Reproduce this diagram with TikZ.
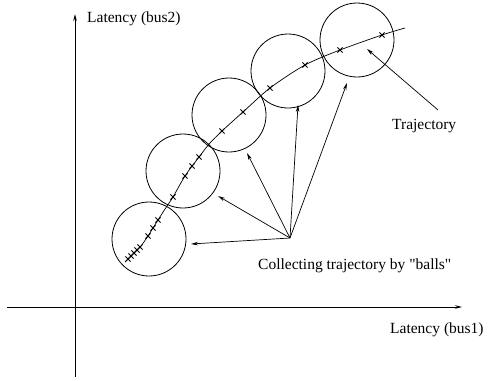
\documentclass[tikz,border=0pt]{standalone}
\usepackage{fontspec}
\setmainfont{Liberation Serif}
\newfontfamily\lblfont{Liberation Serif}
\usetikzlibrary{arrows.meta}
\begin{document}
\begin{tikzpicture}[x=1pt,y=-1pt,
  axis/.style={line width=0.9pt,-{Stealth[length=7pt,width=3.5pt]}},
  ptr/.style={line width=0.7pt,-{Stealth[length=7pt,width=3.5pt]}},
  ball/.style={draw,circle,line width=0.8pt,minimum size=74pt,inner sep=0pt},
  lbl/.style={anchor=west,inner sep=0pt,font=\lblfont\fontsize{15.5}{18}\selectfont},
  crs/.style={line width=0.75pt}]
\useasboundingbox (0,0) rectangle (492,380);
% axes
\coordinate (xs) at (7,307);
\coordinate (xe) at (462,307);
\coordinate (ys) at (75,377);
\coordinate (ye) at (75,14);
\draw[axis] (xs) -- (xe);
\draw[axis] (ys) -- (ye);
\node[lbl] (ylab) at (87,19) {Latency (bus2)};
\node[lbl] (xlab) at (390,330) {Latency (bus1)};
% balls
\node[ball] (b1) at (149,239) {};
\node[ball] (b2) at (183,171) {};
\node[ball] (b3) at (229,115) {};
\node[ball] (b4) at (288,71) {};
\node[ball] (b5) at (357,40) {};
% trajectory
\draw[line width=0.7pt] plot[smooth] coordinates {(125,262) (134,253) (141,246) (148,236) (153,228) (158,220) (165,209) (173,197) (185,176) (199,157) (210,143) (222,131) (243,112) (270,88) (305,65) (340,50) (382,35) (405,28)};
\foreach \p in {(128,259),(131,256),(134,253),(137,250),(140,247),(148,236),(153,228),(158,220),(173,197),(185,176),(192,166),(199,157),(222,131),(243,112),(270,88),(305,65),(340,50),(382,35)}
  \draw[crs] \p ++(-2.6,-2.6) -- ++(5.2,5.2) \p ++(-2.6,2.6) -- ++(5.2,-5.2);
% arrows
\coordinate (apex) at (290,238);
\coordinate (t1) at (191,244);
\coordinate (t2) at (218,196);
\coordinate (t3) at (247,153);
\coordinate (t4) at (298,105);
\coordinate (t5) at (347,83);
\foreach \t in {t1,t2,t3,t4,t5} \draw[ptr] (apex) -- (\t);
\node[lbl] (clab) at (258,266) {Collecting trajectory by "balls"};
\coordinate (trs) at (438,110);
\coordinate (tre) at (367,49);
\draw[ptr] (trs) -- (tre);
\node[lbl] (tlab) at (392,126) {Trajectory};
\end{tikzpicture}
\end{document}
